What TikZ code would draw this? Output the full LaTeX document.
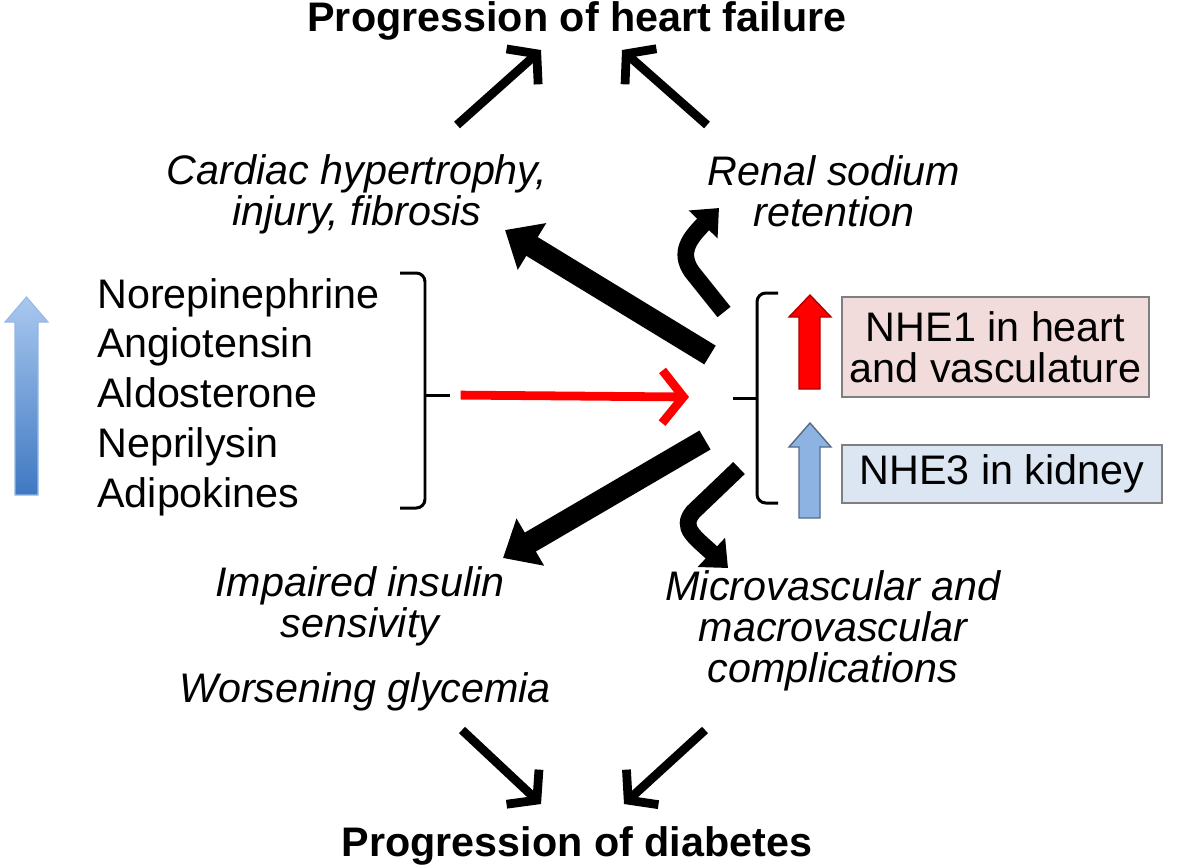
\documentclass[tikz,border=0pt]{standalone}
\usepackage{fontspec}
\setmainfont{Liberation Sans}
\usetikzlibrary{arrows.meta}
\definecolor{nhepink}{HTML}{F2DCDB}
\definecolor{nheblue}{HTML}{DCE6F2}
\definecolor{arrblue}{HTML}{8DB3E2}
\definecolor{boxgray}{HTML}{7F7F7F}
\definecolor{shadetop}{HTML}{A9C8EE}
\definecolor{shadebot}{HTML}{3F78C2}
\newcommand{\txtfont}{\fontsize{23.5}{23.5}\selectfont}
\tikzset{
  lbl/.style={font=\txtfont\itshape, align=center, inner sep=0},
  ttl/.style={font=\txtfont\bfseries, inner sep=0},
  nhebox/.style={draw=boxgray, line width=1pt, font=\txtfont, align=center, inner sep=0},
  brk/.style={line width=1.7pt, rounded corners=5pt},
  fatarr/.style={line width=12.5pt, -{Triangle[length=18pt,width=30pt]}},
  curvarr/.style={line width=9.5pt, -{Triangle[length=13pt,width=22pt]}},
  thinarr/.style={line width=5pt, -{Straight Barb[length=11pt,width=27pt]}},
}

\begin{document}
\begin{tikzpicture}[x=0.02cm, y=-0.02cm]
    \useasboundingbox (0,0) rectangle (1200,867);

    % Titles
    \node[ttl] (hf) at (577,21) {Progression of heart failure};
    \node[ttl] (db) at (577,846) {Progression of diabetes};

    % Outcomes
    \node[lbl] (card) at (357,194) {Cardiac hypertrophy,\\injury, fibrosis};
    \node[lbl] (renal) at (834,191) {Renal sodium\\retention};
    \node[lbl] (insulin) at (360,606) {Impaired insulin\\sensivity};
    \node[lbl] (glyc) at (365,692) {Worsening glycemia};
    \node[lbl] (micro) at (833,631) {Microvascular and\\macrovascular\\complications};

    % Neurohormones
    \node[font={\fontsize{23.5}{28.3}\selectfont}, align=left, anchor=west, inner sep=0] (hormones) at (97,397)
        {Norepinephrine\\Angiotensin\\Aldosterone\\Neprilysin\\Adipokines};
    \shadedraw[top color=shadetop, bottom color=shadebot, draw=shadetop!80!shadebot, line width=0.6pt]
        (15,495) -- (15,322) -- (5,322) -- (26.5,297) -- (48,322) -- (38,322) -- (38,495) -- cycle;
    \draw[brk] (400,273) -- (425,273) -- (425,508) -- (400,508);
    \draw[line width=1.7pt] (425,395) -- (450,395) coordinate (lbr);

    % NHE isoforms
    \node[nhebox, fill=nhepink, minimum width=6.14cm, minimum height=2cm] (nhe1) at (995.5,347)
        {NHE1 in heart\\and vasculature};
    \node[nhebox, fill=nheblue, minimum width=6.4cm, minimum height=1.16cm] (nhe3) at (1002,474)
        {NHE3 in kidney};
    \filldraw[fill=red, draw=red!70!black, line width=0.8pt]
        (799,389) -- (799,317) -- (789,317) -- (810,295) -- (831,317) -- (820,317) -- (820,389) -- cycle;
    \filldraw[fill=arrblue, draw=arrblue!60!black, line width=0.8pt]
        (799,518) -- (799,447) -- (789,447) -- (810,423) -- (831,447) -- (820,447) -- (820,518) -- cycle;
    \draw[brk] (778,293) -- (757,293) -- (757,503) -- (778,503);
    \draw[line width=1.7pt] (757,398) -- (733,398) coordinate (rbr);

    % Hormones act on NHE
    \coordinate (hub) at (689,397);
    \draw[line width=5pt, red, -{Straight Barb[length=12pt,width=30pt]}, shorten <=6pt] (lbr) -- (hub);

    % Consequences
    \coordinate (upS) at (710,355);
    \coordinate (upT) at (505,230);
    \draw[fatarr] (upS) -- (upT);
    \coordinate (loS) at (705,440);
    \coordinate (loT) at (503,558);
    \draw[fatarr] (loS) -- (loT);
    \coordinate (rnS) at (724,312);
    \coordinate (rnT) at (719,208);
    \draw[curvarr] (rnS) -- (692,272) .. controls (678,252) and (690,238) .. (rnT);
    \coordinate (mcS) at (739,468);
    \coordinate (mcT) at (728,568);
    \draw[curvarr] (mcS) -- (693,512) .. controls (680,528) and (695,537) .. (mcT);

    % To the progression of disease
    \coordinate (cardUp) at (457,125);
    \coordinate (hfL) at (541,50);
    \draw[thinarr] (cardUp) -- (hfL);
    \coordinate (renalUp) at (707,125);
    \coordinate (hfR) at (622,50);
    \draw[thinarr] (renalUp) -- (hfR);
    \coordinate (glycDn) at (462,730);
    \coordinate (dbL) at (541,804);
    \draw[thinarr] (glycDn) -- (dbL);
    \coordinate (microDn) at (705,730);
    \coordinate (dbR) at (624,804);
    \draw[thinarr] (microDn) -- (dbR);
\end{tikzpicture}
\end{document}
